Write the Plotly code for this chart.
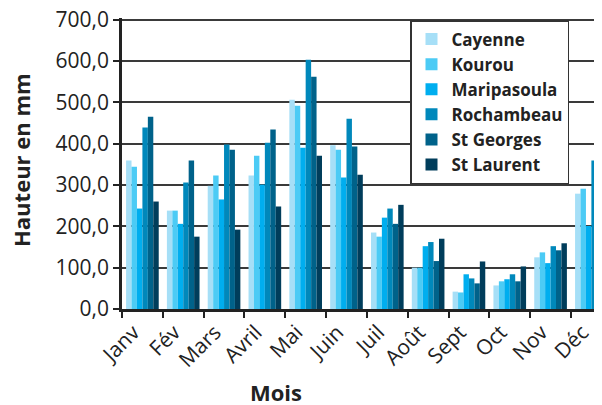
import plotly.graph_objects as go

months = ["Janv", "Fév", "Mars", "Avril", "Mai", "Juin", "Juil", "Août", "Sept", "Oct", "Nov", "Déc"]
cayenne = [359, 238, 298, 323, 506, 396, 185, 100, 42, 57, 125, 279]
kourou = [344, 238, 323, 371, 492, 385, 175, 100, 40, 67, 137, 291]
maripasoula = [243, 206, 265, 301, 390, 318, 221, 152, 84, 72, 111, 201]
rochambeau = [439, 306, 398, 402, 603, 460, 243, 162, 74, 84, 152, 359]
st_georges = [465, 359, 385, 434, 562, 393, 206, 116, 62, 67, 142, 345]
st_laurent = [260, 175, 192, 248, 371, 325, 252, 170, 115, 103, 159, 330]
y_ticks = [0, 100, 200, 300, 400, 500, 600, 700]

series = [
    ("Cayenne", cayenne, "#a6dff7"),
    ("Kourou", kourou, "#4ccbf5"),
    ("Maripasoula", maripasoula, "#00aeef"),
    ("Rochambeau", rochambeau, "#0088bb"),
    ("St Georges", st_georges, "#00628a"),
    ("St Laurent", st_laurent, "#003d5b"),
]

FONT = "Open Sans"
INK = "#222"
GRID = "#3a3a3a"

# The page body has an 8px margin: the figure's own coordinates are window - 8.
OFF = 8
FW, FH = 602 - OFF, 405 - OFF
YMAX = 704               # a little headroom so the 700 gridline is drawn
L = 122 - OFF            # y axis at x=122 in the window
B = FH - (309 - OFF)     # zero line at y=309
H = round((309 - 20) * YMAX / 700)
T = FH - B - H
W = FW - L


def px_x(x):
    return (x - OFF - L) / W


def px_y(y):
    return (FH - B - (y - OFF)) / H


fig = go.Figure()
for name, vals, col in series:
    fig.add_trace(go.Bar(x=months, y=vals, name=name, marker_color=col,
                         marker_line_width=0))

fig.update_layout(
    width=FW, height=FH,
    margin=dict(l=L, r=0, t=T, b=B),
    paper_bgcolor="white", plot_bgcolor="white",
    separators=", ",
    bargap=0.2, bargroupgap=0,
    font=dict(family=FONT, color=INK, size=18),
    legend=dict(
        x=px_x(410), xanchor="left", y=px_y(20), yanchor="top",
        bgcolor="white", bordercolor="#333", borderwidth=1.5,
        font=dict(family=FONT, size=17, color=INK, weight="bold"),
    ),
    xaxis=dict(
        range=[-0.5, 11.26], automargin=False,
        tickangle=-45, tickson="boundaries", ticks="outside", ticklen=6,
        tickwidth=2, tickcolor=INK, ticklabelshift=-9,
        ticklabeloverflow="allow",
        showline=True, linewidth=2.5, linecolor=INK,
        tickfont=dict(family=FONT, size=21, color=INK),
    ),
    yaxis=dict(
        range=[0, YMAX], tickvals=y_ticks,
        tickformat=".1f", automargin=False, ticklabeloverflow="allow",
        ticks="outside", ticklen=6, tickwidth=2, tickcolor=INK,
        showline=True, linewidth=2.5, linecolor=INK,
        showgrid=True, gridcolor=GRID, gridwidth=1.5,
        tickfont=dict(family=FONT, size=21, color=INK),
    ),
    shapes=[
        dict(type="line", xref="paper", x0=0, x1=1, yref="y",
             y0=y_ticks[-1], y1=y_ticks[-1], layer="below",
             line=dict(color=GRID, width=1.5)),
    ],
    annotations=[
        dict(text="Mois", xref="paper", yref="paper",
             x=px_x(276), y=px_y(392), xanchor="center", yanchor="middle",
             showarrow=False, font=dict(family=FONT, size=22, color=INK, weight="bold")),
        dict(text="Hauteur en mm", xref="paper", yref="paper", textangle=-90,
             x=px_x(21), y=px_y(160), xanchor="center", yanchor="middle",
             showarrow=False, font=dict(family=FONT, size=22, color=INK, weight="bold")),
    ],
)

fig.write_html("out.html")
